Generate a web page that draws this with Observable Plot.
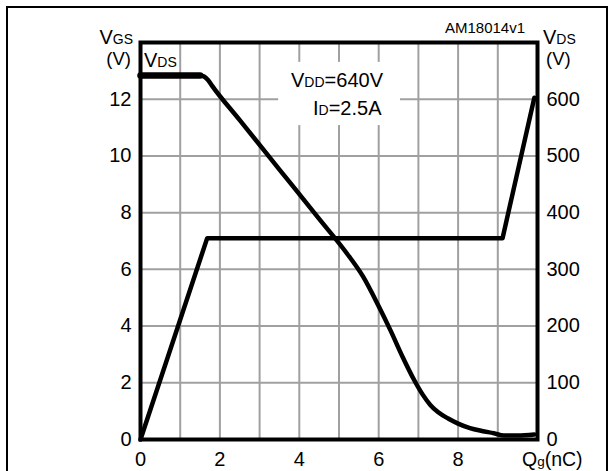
<!DOCTYPE html>
<html><head><meta charset="utf-8">
<script src="https://cdn.jsdelivr.net/npm/d3@7"></script>
<script src="https://cdn.jsdelivr.net/npm/@observablehq/plot@0.6"></script>
<style>
html,body{margin:0;padding:0;background:#fff;}
#wrap{position:relative;width:615px;height:471px;overflow:hidden;background:#fff;}
#border{position:absolute;left:6px;top:6px;width:598px;height:480px;border:2.5px solid #000;}
#chart{position:absolute;left:0;top:0;}
</style></head><body>
<div id="wrap"><div id="border"></div><div id="chart"></div></div>
<script>
// Gate charge Qg (nC) vs VGS (V)
const qgVgs = [0, 1.68, 9.12, 9.92];
const vgs   = [0, 7.1, 7.1, 12.05];
// Gate charge Qg (nC) vs VDS (V)
const qgVds = [0, 1.5, 1.6, 1.7, 1.8, 2.5, 3.5, 4.5, 5.2, 5.6, 6.0, 6.3, 6.6, 6.9, 7.1, 7.3, 7.5, 7.75, 8.0, 8.3, 8.6, 8.9, 9.15, 9.5, 9.92];
const vds   = [642, 642, 640, 634, 624, 563, 476, 389, 328, 288, 235, 192, 146, 104, 80, 61, 48, 37, 28, 20, 15, 11, 7, 7, 9];
const xTicks = [0, 2, 4, 6, 8];
const yTicks = [0, 2, 4, 6, 8, 10, 12];
const vdsTickLabels = ["0", "100", "200", "300", "400", "500", "600"];
const xGrid = [1, 2, 3, 4, 5, 6, 7, 8, 9];
const yGrid = [2, 4, 6, 8, 10, 12];
const vdsPerVgs = 50; // right axis = left axis x 50
const noteBox = [{x1: 3.48, x2: 6.55, y1: 11.07, y2: 13.3}];

const vgsData = qgVgs.map((q, i) => ({q, v: vgs[i]}));
const vdsData = qgVds.map((q, i) => ({q, v: vds[i]}));
const font = "'Liberation Sans', Arial, Helvetica, sans-serif";

const plot = Plot.plot({
  width: 615, height: 471,
  marginLeft: 140, marginRight: 78, marginTop: 42, marginBottom: 32,
  style: {fontFamily: font, fontSize: "20px", color: "#000", background: "transparent", overflow: "visible"},
  x: {domain: [0, 10]},
  y: {domain: [0, 14]},
  marks: [
    Plot.ruleX(xGrid, {stroke: "#a0a0a0", strokeWidth: 2}),
    Plot.ruleY(yGrid, {stroke: "#a0a0a0", strokeWidth: 2}),
    Plot.rect(noteBox, {x1: "x1", x2: "x2", y1: "y1", y2: "y2", fill: "white"}),
    Plot.line(vdsData, {x: "q", y: d => d.v / vdsPerVgs, stroke: "black", strokeWidth: 4.5, curve: "monotone-x", strokeLinejoin: "round"}),
    Plot.line(vdsData.slice(0, 2), {x: "q", y: d => d.v / vdsPerVgs, stroke: "black", strokeWidth: 6.5}),
    Plot.line(vgsData, {x: "q", y: "v", stroke: "black", strokeWidth: 4.5, strokeLinejoin: "round"}),
    Plot.axisX({ticks: xTicks, tickSize: 0, tickPadding: 12, label: null, fill: "black"}),
    Plot.axisY({ticks: yTicks, tickSize: 0, tickPadding: 9, label: null, fill: "black"}),
    Plot.axisY({anchor: "right", ticks: yTicks, tickSize: 0, tickPadding: 9, label: null, fill: "black",
      tickFormat: (d) => vdsTickLabels[yTicks.indexOf(d)]}),
    Plot.frame({stroke: "black", strokeWidth: 4})
  ]
});
document.getElementById("chart").appendChild(plot);

const svg = d3.select(plot);
const g = svg.append("g").attr("font-family", font).attr("fill", "black");
// lines: array of [x, y, [[text, size], ...]] drawn inside one text element
function label(lines, anchor) {
  const t = g.append("text").attr("text-anchor", anchor || "start").attr("font-size", 20);
  lines.forEach(([x, y, parts]) => {
    parts.forEach(([s, sz], j) => {
      const sp = t.append("tspan").attr("font-size", sz).text(s);
      if (j === 0) sp.attr("x", x).attr("y", y);
    });
  });
  return t;
}
label([[133, 44, [["V", 20], ["GS", 14]]], [131, 65, [["(V)", 18.5]]]], "end");
label([[543, 44, [["V", 20], ["DS", 14]]], [546, 65, [["(V)", 18.5]]]], "start");
label([[144, 67, [["V", 20], ["DS", 14]]]], "start");
label([[291, 87, [["V", 20], ["DD", 14], ["=640V", 20]]], [313, 115, [["I", 20], ["D", 14], ["=2.5A", 20]]]], "start");
label([[445, 33, [["AM18014v1", 15]]]], "start");
label([[522, 466, [["Q", 19.5], ["g", 13.5], ["(nC)", 19.5]]]], "start");
</script>
</body></html>
